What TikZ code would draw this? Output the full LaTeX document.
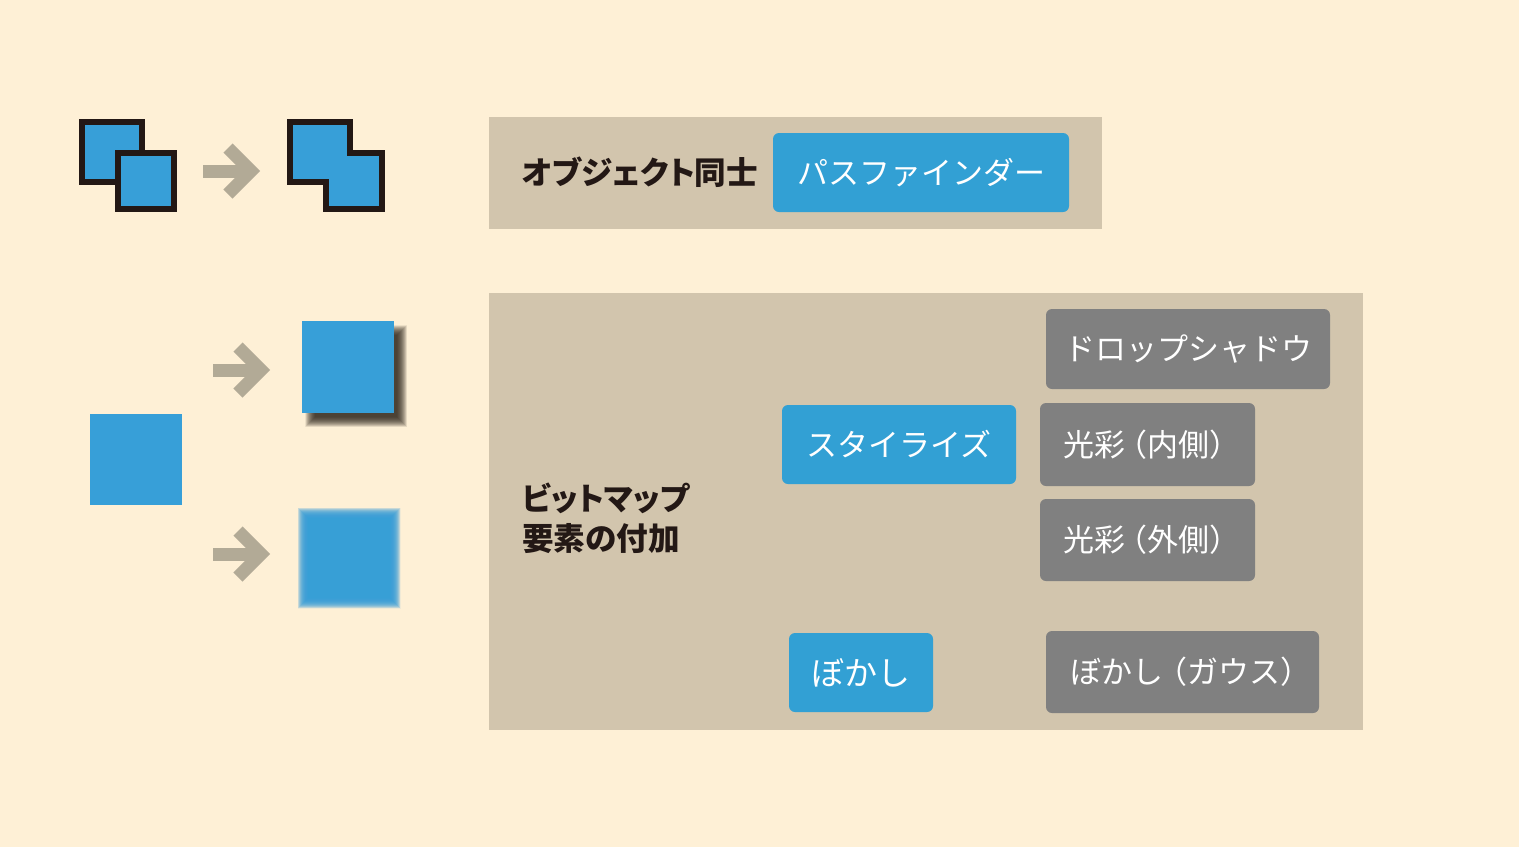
\documentclass[tikz,border=0pt]{standalone}
\usepackage{fontspec}
\newfontfamily\jp{Noto Sans CJK JP}
\newfontfamily\jpp{Noto Sans CJK JP}[RawFeature=+palt]
\definecolor{bg}{HTML}{FEF0D6}
\definecolor{panel}{HTML}{D2C5AD}
\definecolor{boxblue}{HTML}{32A0D4}
\definecolor{sqblue}{HTML}{379FD8}
\definecolor{boxgray}{HTML}{808080}
\definecolor{ink}{HTML}{231815}
\definecolor{arrowc}{HTML}{B2AA96}
\definecolor{shadowc}{HTML}{2E241C}
\tikzset{
  lbl/.style={rounded corners=6pt, text=white, font=\jp\fontsize{31}{36}\selectfont, inner sep=0pt, align=center},
  bluebox/.style={lbl, fill=boxblue},
  graybox/.style={lbl, fill=boxgray},
  heading/.style={text=ink, font=\jpp\bfseries\fontsize{31.6}{40}\selectfont, inner sep=0pt, align=left, anchor=west},
  outlined/.style={fill=sqblue, draw=ink, line width=6pt, miter limit=10},
  arrowicon/.style={draw=arrowc, line width=13pt, miter limit=10},
}
\begin{document}
\begin{tikzpicture}[x=1pt,y=-1pt]
\fill[bg] (0,0) rectangle (1519,847);
\useasboundingbox (0,0) rectangle (1519,847);
% panels
\fill[panel] (489,117) rectangle (1102,229);
\fill[panel] (489,293) rectangle (1363,730);
% top-left overlapping squares
\draw[outlined] (82,122) rectangle (142,182);
\draw[outlined] (118,153) rectangle (174,209);
% arrow icon
\newcommand{\arrowicon}[2]{%
  \draw[arrowicon] (#1,#2) -- ({#1+47},#2);
  \draw[arrowicon] ({#1+25},{#2-23}) -- ({#1+48},#2) -- ({#1+25},{#2+23});}
\arrowicon{203}{171}
% merged shape
\draw[outlined] (290,122) -- (350,122) -- (350,153) -- (382,153) -- (382,209) -- (326,209) -- (326,182) -- (290,182) -- cycle;
% plain square
\fill[sqblue] (90,414) rectangle (182,505);
% arrows row 2 and 3
\arrowicon{213}{370}
\arrowicon{213}{554}
% drop shadow square
\foreach \d in {-5,-4.75,...,5}{
  \fill[shadowc, opacity=0.038] ({310-\d},{330-\d}) rectangle ({402+\d},{422+\d});
}
\fill[sqblue] (302,321) rectangle (394,413);
% blurred square
\foreach \d in {-5.5,-5.25,...,5.5}{
  \fill[sqblue, opacity=0.075] ({303-\d},{513-\d}) rectangle ({395+\d},{603+\d});
}
% headings
\node[heading] (h1) at (522,172) {オブジェクト同士};
\node[heading] (h2) at (522,518) {ビットマップ\\要素の付加};
% boxes
\node[bluebox, minimum width=296, minimum height=79] (pf) at (921,172.5) {パスファインダー};
\node[graybox, minimum width=284, minimum height=80] (ds) at (1188,349) {ドロップシャドウ};
\node[bluebox, minimum width=234, minimum height=79] (st) at (899,444.5) {スタイライズ};
\node[graybox, minimum width=215, minimum height=83] (gi) at (1147.5,444.5) {光彩\kern-9pt（内側）\kern-8pt};
\node[graybox, minimum width=215, minimum height=82] (go) at (1147.5,540) {光彩\kern-9pt（外側）\kern-8pt};
\node[bluebox, minimum width=144, minimum height=79, font=\jp\fontsize{33}{36}\selectfont] (bk) at (861,672.5) {ぼかし};
\node[graybox, minimum width=273, minimum height=82] (bg) at (1182.5,672) {ぼかし\kern-7pt（ガウス）\kern-16pt};
\end{tikzpicture}
\end{document}
